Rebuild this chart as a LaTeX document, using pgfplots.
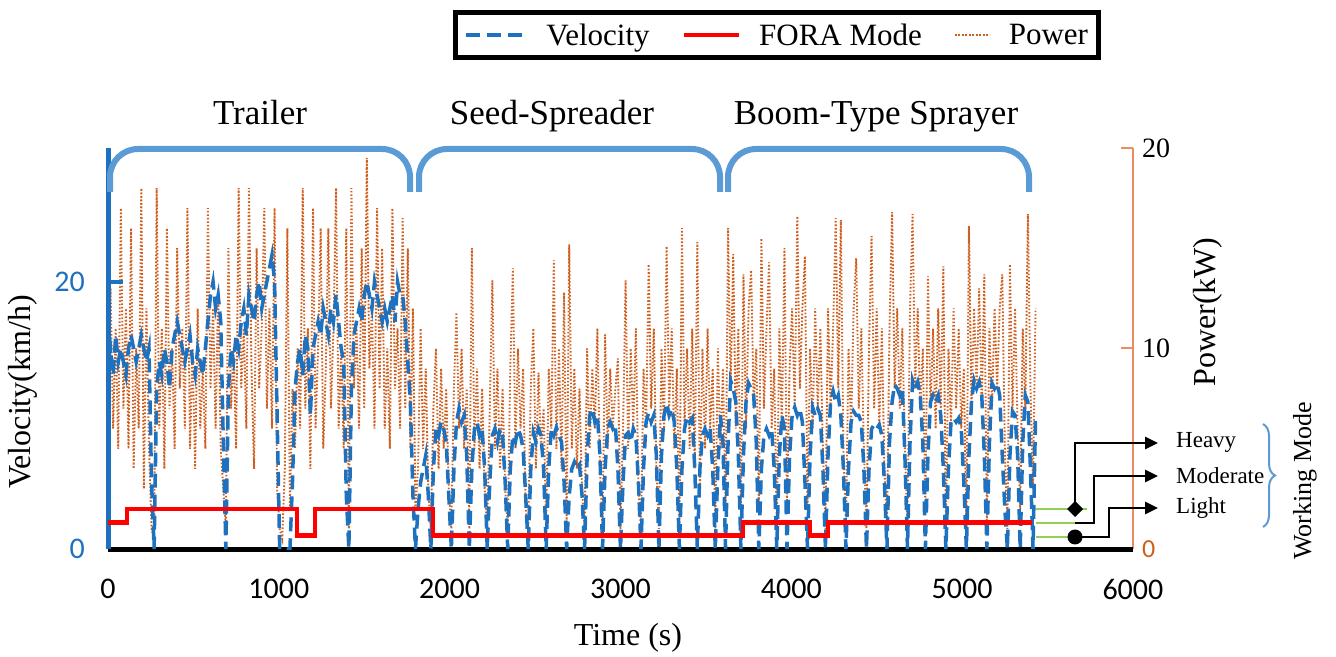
\documentclass[border=0pt]{standalone}
\usepackage{fontspec}
\setmainfont{Liberation Serif}
\newfontfamily\calfont{Carlito}
\usepackage{pgfplots}
\pgfplotsset{compat=1.18}
\usepackage{pgfplotstable}
\usetikzlibrary{arrows.meta,decorations.pathreplacing}
\definecolor{velblue}{RGB}{30,113,190}
\definecolor{bracecol}{RGB}{91,155,213}
\definecolor{powor}{RGB}{207,95,30}
\definecolor{axor}{RGB}{235,140,100}
\definecolor{modegreen}{RGB}{146,208,80}
\newcommand{\fs}[1]{\fontsize{#1}{#1}\selectfont}
\pgfplotsset{
  limgA/.style={legend image code/.code={\draw[##1] (0pt,0pt) -- (61pt,0pt);}},
  limgB/.style={legend image code/.code={\draw[##1] (0pt,0pt) -- (55pt,0pt);}},
  limgC/.style={legend image code/.code={\draw[##1] (0pt,0pt) -- (35pt,0pt);}},
}

\pgfplotstableread{
t v p
0 14 9
15 15 13
30 13 6
45 16 11
60 14 5
75 15 17
90 14 7
105 13 12
120 15 5
135 16 16
150 15 4
165 14 10
180 15 6
195 16 18
210 15 3
225 14 12
240 15 5
255 5 1
270 0 0.5
285 12 18
300 14 6
315 13 11
330 15 4
345 14 16
360 12 7
375 15 10
390 16 5
405 17 15
420 16 8
435 15 11
450 14 6
465 15 17
480 16 5
495 14 10
510 13 4
525 15 12
540 14 6
555 13 9
570 15 5
585 17 17
600 19 8
615 20 12
630 18 6
645 19 13
660 17 5
675 8 3
690 0 1
705 12 15
720 15 7
735 14 10
750 16 5
765 15 18
780 17 8
795 18 11
810 16 6
825 19 18
840 18 9
855 17 4
870 19 15
885 20 8
900 18 11
915 19 17
930 20 7
945 21 12
960 22 6
975 20 17
990 10 3
1005 0 1
1020 0 0.5
1035 0 4
1050 0 16
1065 0 2
1080 5 8
1095 12 5
1110 14 10
1125 15 6
1140 13 18
1155 16 7
1170 15 11
1185 10 4
1200 15 17
1215 16 6
1230 17 10
1245 16 16
1260 18 5
1275 17 9
1290 16 16
1305 18 7
1320 17 11
1335 19 18
1350 17 6
1365 15 10
1380 14 5
1395 4 16
1410 0 1
1425 12 18
1440 16 8
1455 17 11
1470 18 6
1485 17 15
1500 19 7
1515 20 19.5
1530 19 9
1545 18 12
1560 20 6
1575 19 17
1590 18 8
1605 17 15
1620 18 6
1635 17 10
1650 18 5
1665 19 17
1680 17 8
1695 20 11
1710 19 6
1725 19 16.5
1740 17 7
1755 14 15
1770 11 5
1785 4 12
1800 0 2
1815 3 4
1830 5 11
1845 6 5
1860 7 9
1875 4 3
1890 0 1
1905 6 7
1920 9 10
1935 8.5 4
1950 9.5 9
1965 9 5
1980 8 8
1995 4 3
2010 0 1
2025 6 8
2040 9.5 11.8
2055 10.5 6
2070 9.5 10
2085 10 5
2100 7 8
2115 0 1
2130 6 15
2145 9 5
2160 9.5 9
2175 8.5 4
2190 9 8
2205 6 3
2220 0 1
2235 5 7
2250 8.5 13.4
2265 9 5
2280 8 9
2295 9 4
2310 8.5 8
2325 5 3
2340 0 1
2355 6 9
2370 8.5 14
2385 8 5
2400 9 10
2415 8.5 6
2430 7.5 9
2445 4 2
2460 0 1
2475 6 8
2490 8.7 11
2505 8 4
2520 9 8.8
2535 8.5 5
2550 6 7
2565 0 1
2580 6 9
2595 9 6
2610 8.5 14.4
2625 9.1 5
2640 8.5 10
2655 8 4
2670 5 12.8
2685 0 1
2700 4 15.2
2715 6 5
2730 6.5 9
2745 6 4
2760 6.3 8
2775 4 3
2790 0 1
2805 7 10
2820 10 5
2835 10.5 9
2850 9.5 6
2865 10 11
2880 7 4
2895 0 1
2910 6 10.7
2925 9 5
2940 9.5 9
2955 9 6
2970 9.3 8
2985 6 9.5
3000 0 1
3015 5 6
3030 8.5 13.4
3045 8.7 5
3060 8 10
3075 9 6
3090 8.5 11
3105 5 3
3120 0 1
3135 6 9
3150 9.5 6
3165 10.2 14.2
3180 9.5 7
3195 10 11
3210 7 4
3225 0 1
3240 7 10
3255 10 6
3270 10.9 15.1
3285 10 7
3300 10.5 11
3315 9.5 5
3330 6 9
3345 0 1
3360 6 16
3375 9 6
3390 9.9 10
3405 9.5 5
3420 9.8 11
3435 6 4
3450 0 15.3
3465 6 3
3480 8.5 10
3495 9 5
3510 8.5 11
3525 9 6
3540 6 9
3555 0 1
3570 6 10
3585 10 5
3600 8 9
3615 0 2
3630 8 16
3645 12.6 8
3660 12 14.7
3675 11 6
3690 7 11
3705 0 2
3720 7 13.7
3735 11 6
3750 12.4 12
3765 12 13.9
3780 11.5 7
3795 8 10
3810 0 2
3825 6 15.5
3840 8.5 7
3855 9 11
3870 8.5 14.3
3885 9 6
3900 6 9
3915 0 1
3930 7 11
3945 10 6
3960 9 15
3975 0 2
3990 7 9
4005 10 12
4020 10.6 7
4035 10 16.6
4050 10.5 8
4065 9.5 12
4080 5 14.6
4095 0 2
4110 7 10
4125 10.6 6
4140 10 12
4155 10.5 7
4170 10 11
4185 6 5
4200 0 1
4215 7 12
4230 11 7
4245 11.8 11
4260 11 16.5
4275 11.5 8
4290 10 16.4
4305 6 5
4320 0 1
4335 6 10
4350 9.5 6
4365 10.3 12
4380 10 14.5
4395 10 7
4410 9.5 11
4425 6 5
4440 0 1
4455 6 10
4470 9 15.6
4485 9.3 7
4500 9 12
4515 9.3 6
4530 8.5 11
4545 5 4
4560 0 1
4575 8 11
4590 11 16.8
4605 12.3 8
4620 12 12
4635 11.5 7
4650 12 11
4665 7 5
4680 0 1
4695 8 12
4710 12.6 16.7
4725 12 8
4740 12.5 12
4755 11.5 7
4770 8 10
4785 0 2
4800 7 13.6
4815 11 7
4830 11.5 11
4845 11 6
4860 11.5 12
4875 10 7
4890 6 14.1
4905 0 1
4920 6 10
4935 9.5 6
4950 9.8 12
4965 9.5 7
4980 9.8 11
4995 9 6
5010 5 9
5025 0 1
5040 7 16.1
5055 11 7
5070 12.6 12
5085 12 8
5100 12.5 13
5115 11.5 7
5130 7 13.7
5145 0 1
5160 8 11
5175 12.4 7
5190 12 12
5205 12.4 8
5220 11.5 12
5235 7 13.7
5250 3 5
5265 0 1
5280 7 14.2
5295 10.3 7
5310 10 12
5325 7 6
5340 0 2
5355 8 11
5370 11.5 7
5385 11 16.7
5400 6 8
5415 0 3
5430 10 12
}\drive

\pgfplotstableread{
t m
0 2
111 2
111 3
1106 3
1106 1
1212 1
1212 3
1902 3
1902 1
3717 1
3717 2
4110 2
4110 1
4215 1
4215 2
5410 2
}\fora

\begin{document}
\begin{tikzpicture}[x=1pt,y=1pt]
\path[use as bounding box] (0,0) rectangle (1336,656);

% power axis (right)
\begin{axis}[
  at={(108pt,107pt)}, anchor=south west, scale only axis,
  width=1025pt, height=401pt,
  xmin=0, xmax=6000, ymin=0, ymax=20,
  axis x line=none, axis y line*=right,
  y axis line style={axor, line width=2pt},
  ytick={0,10,20}, yticklabels={{\calfont\fs{26}\color{powor}0},10,20},
  y tick style={axor, line width=2pt}, major tick length=12pt, tick align=inside,
  yticklabel style={font=\fs{28}, anchor=west, inner sep=0pt, xshift=9pt},
  ylabel={Power(kW)},
  every axis y label/.style={at={(axis description cs:1.0732,0.591)}, rotate=90, anchor=center, font=\fs{32}},
]
\addplot[powor, line width=1.9pt, dash pattern=on 1.6pt off 1.9pt] table[x=t, y=p] {\drive};
\end{axis}

% velocity axis (left)
\begin{axis}[
  at={(108pt,107pt)}, anchor=south west, scale only axis,
  width=1025pt, height=401pt,
  xmin=0, xmax=6000, ymin=0, ymax=30,
  axis x line*=bottom, axis y line*=left,
  x axis line style={black, line width=5pt},
  y axis line style={velblue, line width=5pt},
  xtick={0,1000,2000,3000,4000,5000,6000},
  xticklabels={0,1000,2000,3000,4000,5000,6000},
  x tick style={draw=none},
  xticklabel style={font=\calfont\fs{30}, inner sep=0pt, anchor=north, yshift=-30pt},
  ytick={0,20}, yticklabels={0,20},
  y tick style={velblue, line width=4pt}, major tick length=15pt, tick align=inside,
  yticklabel style={font=\calfont\fs{30}, text=velblue, inner sep=0pt, anchor=east, xshift=-23pt},
  xlabel={Time (s)},
  every axis x label/.style={at={(axis description cs:0.5073,-0.222)}, anchor=center, font=\fs{32}},
  ylabel={Velocity(km/h)},
  every axis y label/.style={at={(axis description cs:-0.083,0.3915)}, rotate=90, anchor=center, font=\fs{32}},
  legend columns=3,
  legend cell align=left,
  legend style={at={(axis description cs:0.6527,1.2818)}, anchor=center,
    draw=black, line width=5pt, font=\fs{31}, inner xsep=8pt, inner ysep=9pt,
    /tikz/every odd column/.append style={column sep=16pt},
    /tikz/every even column/.append style={column sep=30pt}},
]
\addplot[velblue, line width=3.5pt, dash pattern=on 14pt off 7pt, limgA] table[x=t, y=v] {\drive};
\addlegendentry{Velocity}
\addplot[red, line width=4.5pt, limgB] table[x=t, y=m] {\fora};
\addlegendentry{FORA Mode}
\addlegendimage{powor, line width=1.9pt, dash pattern=on 1.6pt off 1.9pt, limgC}
\addlegendentry{Power\hspace{28pt}}
\end{axis}

% group brackets and titles
\draw[bracecol, line width=6pt, rounded corners=28pt] (110,464) -- (110,507) -- (410,507) -- (410,464);
\draw[bracecol, line width=6pt, rounded corners=28pt] (419,464) -- (419,507) -- (720,507) -- (720,464);
\draw[bracecol, line width=6pt, rounded corners=28pt] (728,464) -- (728,507) -- (1029,507) -- (1029,464);
\node[anchor=base, font=\fs{35}] at (260,531) {Trailer};
\node[anchor=base, font=\fs{35}] at (552,531) {Seed-Spreader};
\node[anchor=base, font=\fs{35}] at (876,531) {Boom-Type Sprayer};

% working mode annotation
\draw[modegreen, line width=2.5pt] (1036,147) -- (1087,147);
\draw[modegreen, line width=2.5pt] (1036,133) -- (1075,133);
\draw[modegreen, line width=2.5pt] (1036,119) -- (1075,119);
\draw[black, line width=2.5pt, -{Triangle[length=13pt,width=12pt]}] (1075,147) -- (1075,213) -- (1158,213);
\draw[black, line width=2.5pt, -{Triangle[length=13pt,width=12pt]}] (1075,133) -- (1094,133) -- (1094,180) -- (1158,180);
\draw[black, line width=2.5pt, -{Triangle[length=13pt,width=12pt]}] (1075,119) -- (1109,119) -- (1109,148) -- (1158,148);
\fill[black] (1075,155) -- (1083,147) -- (1075,139) -- (1067,147) -- cycle;
\fill[black] (1075,119) circle (7.5pt);
\node[anchor=west, font=\fs{23}, inner sep=0pt] at (1176,214) {Heavy};
\node[anchor=west, font=\fs{23}, inner sep=0pt] at (1176,180) {Moderate};
\node[anchor=west, font=\fs{23}, inner sep=0pt] at (1176,148) {Light};
\draw[bracecol, line width=2pt, decorate, decoration={brace, amplitude=12pt}] (1263,232) -- (1263,129);
\node[rotate=90, font=\fs{26}] at (1305,175) {Working Mode};
\end{tikzpicture}
\end{document}
